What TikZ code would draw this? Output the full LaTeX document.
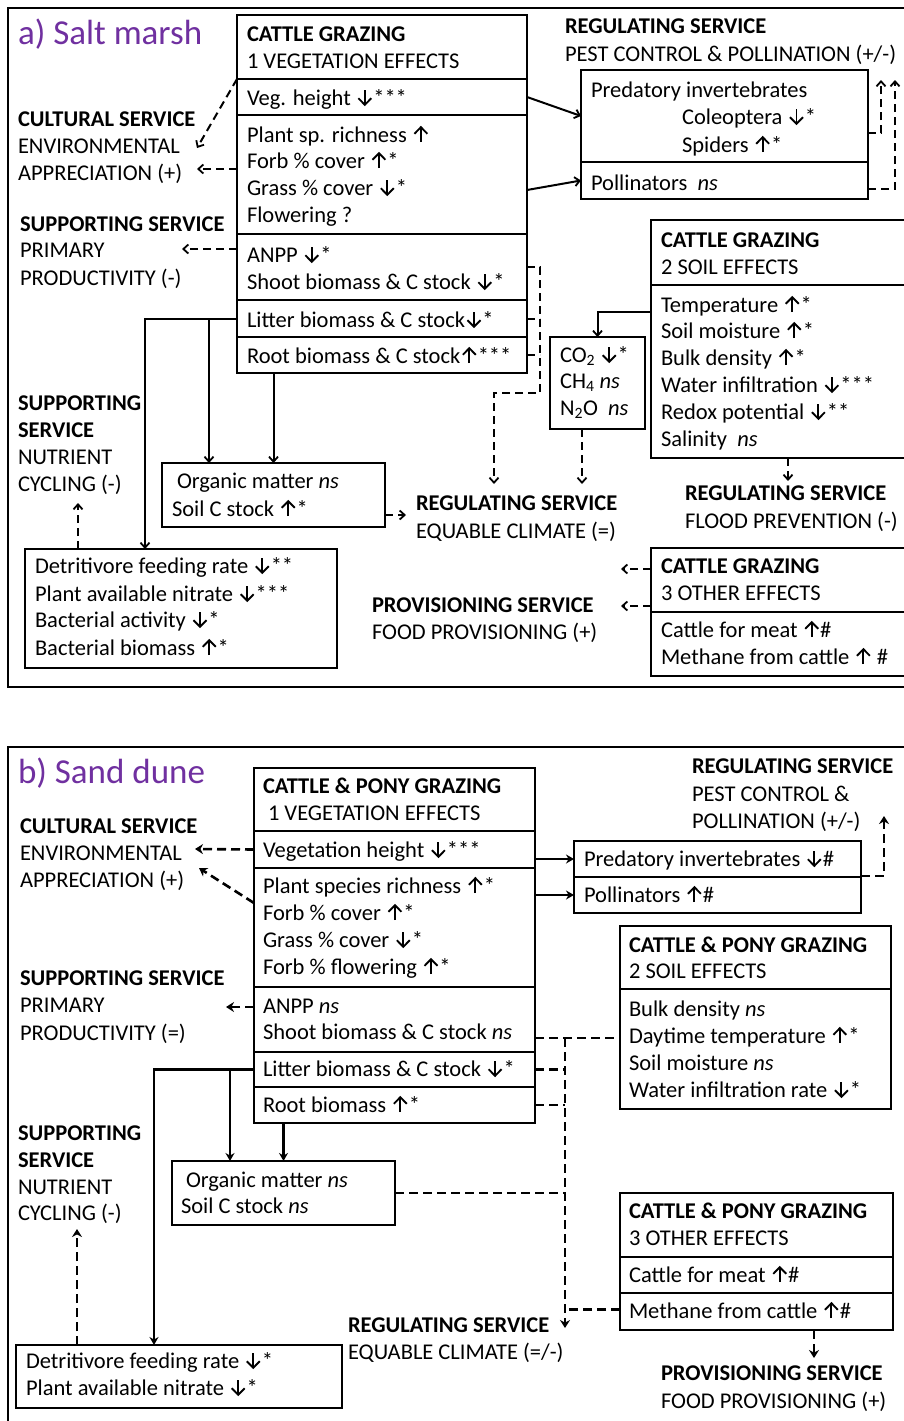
\documentclass[tikz,border=0pt]{standalone}
\usepackage{fontspec}
\setmainfont{Carlito}
\usetikzlibrary{arrows.meta}
\definecolor{titlepurple}{HTML}{7030A0}

% trend arrows drawn as small inline pictures
\newcommand\arU{\kern1.5pt\tikz[x=1pt,y=1pt,baseline=0pt,line width=1.9pt,line cap=butt,line join=miter]{%
  \draw (0,0)--(0,14.5); \draw (-6.5,8.2)--(0,14.8)--(6.5,8.2);}\kern1pt}
\newcommand\arD{\kern1.5pt\tikz[x=1pt,y=1pt,baseline=0pt,line width=1.9pt,line cap=butt,line join=miter]{%
  \draw (0,15)--(0,0.5); \draw (-6.5,6.8)--(0,0.2)--(6.5,6.8);}\kern1pt}
\newcounter{tl}
% one line of text, anchored on its baseline
\newcommand\lineat[3]{\stepcounter{tl}\node[txt] (tl\arabic{tl}) at (#1,#2) {#3};}
\newcommand\headat[3]{\stepcounter{tl}\node[txt,font=\bodyfont\bfseries] (tl\arabic{tl}) at (#1,#2) {#3};}
% a box compartment: style, name, x1, y1, x2, y2
\newcommand\compart[6]{\node[#1, minimum width={(#5-#3)*1pt}, minimum height={(#6-#4)*1pt}] (#2) at (#3,#4) {};}
\newcommand\bodyfont{\fontsize{22.5}{27}\selectfont}

\begin{document}
\begin{tikzpicture}[x=1pt,y=-1pt,
  font=\bodyfont,
  txt/.style={anchor=base west, inner sep=0pt, outer sep=0pt},
  titletxt/.style={txt, font=\fontsize{35}{40}\selectfont, text=titlepurple},
  boxa/.style={draw, line width=1.5pt, inner sep=0pt, outer sep=0pt, anchor=north west},
  boxb/.style={draw, line width=2.4pt, inner sep=0pt, outer sep=0pt, anchor=north west},
  frame/.style={draw, line width=2pt},
  linka/.style={line width=2pt, -{Straight Barb[length=5pt,width=9pt,line width=1.8pt]}},
  linkb/.style={line width=2.6pt, -{Stealth[length=8pt,width=9pt]}},
  dasha/.style={line width=2pt, dash pattern=on 8pt off 5pt, -{Straight Barb[length=5pt,width=9pt,line width=1.8pt]}},
  dashb/.style={line width=2.6pt, dash pattern=on 9pt off 5pt, -{Stealth[length=8pt,width=10pt]}},
  dashplaina/.style={line width=2pt, dash pattern=on 8pt off 5pt},
  dashplainb/.style={line width=2.6pt, dash pattern=on 9pt off 5pt}]
\useasboundingbox (0,0) rectangle (904,1421);
\clip (0,0) rectangle (904,1421);
\fill[white] (0,0) rectangle (904,1421);

%% ================= a) Salt marsh =================
\draw[frame] (8,8) rectangle (930,687);
\node[titletxt] (ta) at (18,45) {a) Salt marsh};

% vegetation effects
\compart{boxa}{ahead}{237}{15}{527}{79}
\compart{boxa}{aveg}{237}{79}{527}{115}
\compart{boxa}{aplant}{237}{115}{527}{234}
\compart{boxa}{aanpp}{237}{234}{527}{300}
\compart{boxa}{alit}{237}{300}{527}{337}
\compart{boxa}{aroot}{237}{337}{527}{373}
\draw[line width=2.2pt] (ahead.south west) -- (ahead.south east);
\headat{247}{42}{CATTLE GRAZING}
\lineat{247}{68}{1 VEGETATION EFFECTS}
\lineat{247}{105}{Veg. height \arD***}
\lineat{247}{142}{Plant sp. richness \arU}
\lineat{247}{168}{Forb \% cover \arU*}
\lineat{247}{195}{Grass \% cover \arD*}
\lineat{247}{222}{Flowering ?}
\lineat{247}{262}{ANPP \arD*}
\lineat{247}{289}{Shoot biomass \& C stock \arD*}
\lineat{247}{327}{Litter biomass \& C stock\arD*}
\lineat{247}{363}{Root biomass \& C stock\arU***}

% service labels, left
\headat{18}{126}{CULTURAL SERVICE}
\lineat{18}{153}{ENVIRONMENTAL}
\lineat{18}{180}{APPRECIATION (+)}
\headat{20}{231}{SUPPORTING SERVICE}
\lineat{20}{257}{PRIMARY}
\lineat{20}{285}{PRODUCTIVITY (-)}
\headat{18}{410}{SUPPORTING}
\headat{18}{437}{SERVICE}
\lineat{18}{464}{NUTRIENT}
\lineat{18}{491}{CYCLING (-)}

% pest control and pollination
\headat{565}{34}{REGULATING SERVICE}
\lineat{565}{62}{PEST CONTROL \& POLLINATION (+/-)}
\compart{boxa}{apred}{581}{70}{868}{162}
\compart{boxa}{apoll}{581}{162}{868}{199}
\lineat{591}{97}{Predatory invertebrates}
\lineat{682}{124}{Coleoptera \arD*}
\lineat{682}{152}{Spiders \arU*}
\lineat{591}{190}{Pollinators\ \ \textit{ns}}

% soil effects
\compart{boxa}{ahd2}{651}{220}{925}{285}
\compart{boxa}{asoil}{651}{285}{925}{458}
\headat{661}{247}{CATTLE GRAZING}
\lineat{661}{274}{2 SOIL EFFECTS}
\lineat{661}{312}{Temperature \arU*}
\lineat{661}{338}{Soil moisture \arU*}
\lineat{661}{365}{Bulk density \arU*}
\lineat{661}{392}{Water infiltration \arD***}
\lineat{661}{419}{Redox potential \arD**}
\lineat{661}{446}{Salinity\ \ \textit{ns}}

% greenhouse gases
\compart{boxa}{aghg}{550}{337}{645}{429}
\lineat{560}{362}{CO\textsubscript{2} \arD*}
\lineat{560}{388}{CH\textsubscript{4} \textit{ns}}
\lineat{560}{415}{N\textsubscript{2}O\ \ \textit{ns}}

% climate and flood
\headat{416}{510}{REGULATING SERVICE}
\lineat{416}{538}{EQUABLE CLIMATE (=)}
\headat{685}{500}{REGULATING SERVICE}
\lineat{685}{528}{FLOOD PREVENTION (-)}

% other effects
\compart{boxa}{ahd3}{651}{548}{925}{612}
\compart{boxa}{aoth}{651}{612}{925}{676}
\headat{661}{573}{CATTLE GRAZING}
\lineat{661}{600}{3 OTHER EFFECTS}
\lineat{661}{637}{Cattle for meat \arU\#}
\lineat{661}{664}{Methane from cattle \arU{} \#}
\headat{372}{612}{PROVISIONING SERVICE}
\lineat{372}{639}{FOOD PROVISIONING (+)}

% soil organic matter and detritivores
\compart{boxa}{aom}{162}{463}{385}{527}
\lineat{177}{488}{Organic matter \textit{ns}}
\lineat{172}{516}{Soil C stock \arU*}
\compart{boxa}{adet}{25}{549}{337}{668}
\lineat{35}{573}{Detritivore feeding rate \arD**}
\lineat{35}{601}{Plant available nitrate \arD***}
\lineat{35}{627}{Bacterial activity \arD*}
\lineat{35}{655}{Bacterial biomass \arU*}

% free ends of the connectors in a)
\coordinate (aEnv1) at (197,148);
\coordinate (aEnv2) at (197,169);
\coordinate (aPrim) at (182,249);
\coordinate (aPestA) at (881,80);
\coordinate (aPestB) at (895,80);
\coordinate (aClimA) at (494,484);
\coordinate (aClimB) at (582,484);
\coordinate (aClimC) at (406,515);
\coordinate (aFlood) at (788,481);
\coordinate (aProvA) at (621,569);
\coordinate (aProvB) at (621,606);
\coordinate (aNutr) at (78,503);

% connectors in a)
\draw[dasha] ([yshift=18pt]aveg.west) -- (aEnv1);
\draw[dasha] ([yshift=5.5pt]aplant.west) -- (aEnv2);
\draw[dasha] ([yshift=18pt]aanpp.west) -- (aPrim);
\draw[linka] (aveg.east) -- (apred.west);
\draw[linka] ([yshift=-15.5pt]aplant.east) -- (apoll.west);
\draw[dasha] ([yshift=-17pt]apred.east) -| (aPestA);
\draw[dasha] ([yshift=-8.5pt]apoll.east) -| (aPestB);
\draw[linka] ([yshift=59.5pt]asoil.west) -| (aghg.north);
\draw[dasha] (aanpp.east) -- ++(13,0) -- ++(0,126) -| (aClimA);
\draw[dashplaina] (alit.east) -- ++(13,0);
\draw[dashplaina] (aroot.east) -- ++(13,0);
\draw[dasha] ([xshift=-15.5pt]aghg.south) -- (aClimB);
\draw[dasha] ([yshift=-20pt]aom.east) -- (aClimC);
\draw[dasha] (asoil.south) -- (aFlood);
\draw[dasha] ([yshift=11pt]ahd3.west) -- (aProvA);
\draw[dasha] ([yshift=-26pt]ahd3.west) -- (aProvB);
\draw[linka] (alit.west) -| ([xshift=-36pt]adet.north);
\draw[linka] ([xshift=-64.5pt]aom.north) ++(0,-144) -- ([xshift=-64.5pt]aom.north);
\draw[linka] (aom.north |- aroot.south) -- (aom.north);
\draw[dasha] ([xshift=-103pt]adet.north) -- (aNutr);

%% ================= b) Sand dune =================
\draw[frame] (8,747) rectangle (930,1450);
\node[titletxt] (tb) at (18,783) {b) Sand dune};

% vegetation effects
\compart{boxb}{bhead}{254}{768}{535}{831}
\compart{boxb}{bveg}{254}{831}{535}{868}
\compart{boxb}{bplant}{254}{868}{535}{987}
\compart{boxb}{banpp}{254}{987}{535}{1052}
\compart{boxb}{blit}{254}{1052}{535}{1087}
\compart{boxb}{broot}{254}{1087}{535}{1123}
\headat{263}{793}{CATTLE \& PONY GRAZING}
\lineat{268}{820}{1 VEGETATION EFFECTS}
\lineat{263}{857}{Vegetation height \arD***}
\lineat{263}{893}{Plant species richness \arU*}
\lineat{263}{920}{Forb \% cover \arU*}
\lineat{263}{947}{Grass \% cover \arD*}
\lineat{263}{974}{Forb \% flowering \arU*}
\lineat{263}{1013}{ANPP \textit{ns}}
\lineat{263}{1039}{Shoot biomass \& C stock \textit{ns}}
\lineat{263}{1076}{Litter biomass \& C stock \arD*}
\lineat{263}{1112}{Root biomass \arU*}

% service labels, left
\headat{20}{833}{CULTURAL SERVICE}
\lineat{20}{860}{ENVIRONMENTAL}
\lineat{20}{887}{APPRECIATION (+)}
\headat{20}{985}{SUPPORTING SERVICE}
\lineat{20}{1012}{PRIMARY}
\lineat{20}{1040}{PRODUCTIVITY (=)}
\headat{18}{1140}{SUPPORTING}
\headat{18}{1167}{SERVICE}
\lineat{18}{1194}{NUTRIENT}
\lineat{18}{1220}{CYCLING (-)}

% pest control and pollination
\headat{692}{773}{REGULATING SERVICE}
\lineat{692}{801}{PEST CONTROL \&}
\lineat{692}{828}{POLLINATION (+/-)}
\compart{boxb}{bpred}{574}{841}{861}{877}
\compart{boxb}{bpoll}{574}{877}{861}{913}
\lineat{584}{866}{Predatory invertebrates \arD\#}
\lineat{584}{902}{Pollinators \arU\#}

% soil effects
\compart{boxb}{bhd2}{620}{926}{891}{989}
\compart{boxb}{bsoil}{620}{989}{891}{1109}
\headat{629}{952}{CATTLE \& PONY GRAZING}
\lineat{629}{978}{2 SOIL EFFECTS}
\lineat{629}{1016}{Bulk density \textit{ns}}
\lineat{629}{1043}{Daytime temperature \arU*}
\lineat{629}{1070}{Soil moisture \textit{ns}}
\lineat{629}{1097}{Water infiltration rate \arD*}

% other effects
\compart{boxb}{bhd3}{620}{1193}{893}{1257}
\compart{boxb}{bcat}{620}{1257}{893}{1293}
\compart{boxb}{bmeth}{620}{1293}{893}{1330}
\headat{629}{1218}{CATTLE \& PONY GRAZING}
\lineat{629}{1245}{3 OTHER EFFECTS}
\lineat{629}{1282}{Cattle for meat \arU\#}
\lineat{629}{1318}{Methane from cattle \arU\#}
\headat{661}{1380}{PROVISIONING SERVICE}
\lineat{661}{1408}{FOOD PROVISIONING (+)}
\headat{348}{1332}{REGULATING SERVICE}
\lineat{348}{1359}{EQUABLE CLIMATE (=/-)}

% soil organic matter and detritivores
\compart{boxb}{bom}{172}{1161}{395}{1225}
\lineat{186}{1187}{Organic matter \textit{ns}}
\lineat{181}{1213}{Soil C stock \textit{ns}}
\compart{boxb}{bdet}{16}{1345}{342}{1408}
\lineat{26}{1368}{Detritivore feeding rate \arD*}
\lineat{26}{1395}{Plant available nitrate \arD*}

% free ends of the connectors in b)
\coordinate (bEnv1) at (195,849);
\coordinate (bEnv2) at (199,868);
\coordinate (bPrim) at (226,1007);
\coordinate (bPest) at (884,816);
\coordinate (bClim) at (565,1328);
\coordinate (bProv) at (814,1358);
\coordinate (bNutr) at (77,1229);
\coordinate (bj) at ([xshift=30pt,yshift=-18.5pt]banpp.east);

% connectors in b)
\draw[dashb] (bveg.west) -- (bEnv1);
\draw[dashb] ([yshift=24.5pt]bplant.west) -- (bEnv2);
\draw[dashb] ([yshift=12.5pt]banpp.west) -- (bPrim);
\draw[linkb] (bpred.west -| bveg.east) -- (bpred.west);
\draw[linkb] (bpoll.west -| bplant.east) -- (bpoll.west);
\draw[dashb] ([yshift=-17pt]bpred.east) -| (bPest);
\draw[dashplainb] ([yshift=-18.5pt]banpp.east) -- ([yshift=11pt]bsoil.west);
\draw[dashb] (bj) -- (bClim);
\draw[dashplainb] (blit.east) -- (blit.east -| bj);
\draw[dashplainb] (broot.east) -- (broot.east -| bj);
\draw[dashplainb] (bom.east) -- (bom.east -| bj);
\draw[dashplainb] ([yshift=2pt]bmeth.west) -- ([yshift=2pt]bmeth.west -| bj);
\draw[dashb] ([xshift=57.5pt]bmeth.south) -- (bProv);
\draw[linkb] (blit.west) -| ([xshift=-25pt]bdet.north);
\draw[linkb] ([xshift=-53.5pt]bom.north) ++(0,-92) -- ([xshift=-53.5pt]bom.north);
\draw[linkb] (bom.north |- broot.south) -- (bom.north);
\draw[dashb] ([xshift=-102pt]bdet.north) -- (bNutr);
\end{tikzpicture}
\end{document}
